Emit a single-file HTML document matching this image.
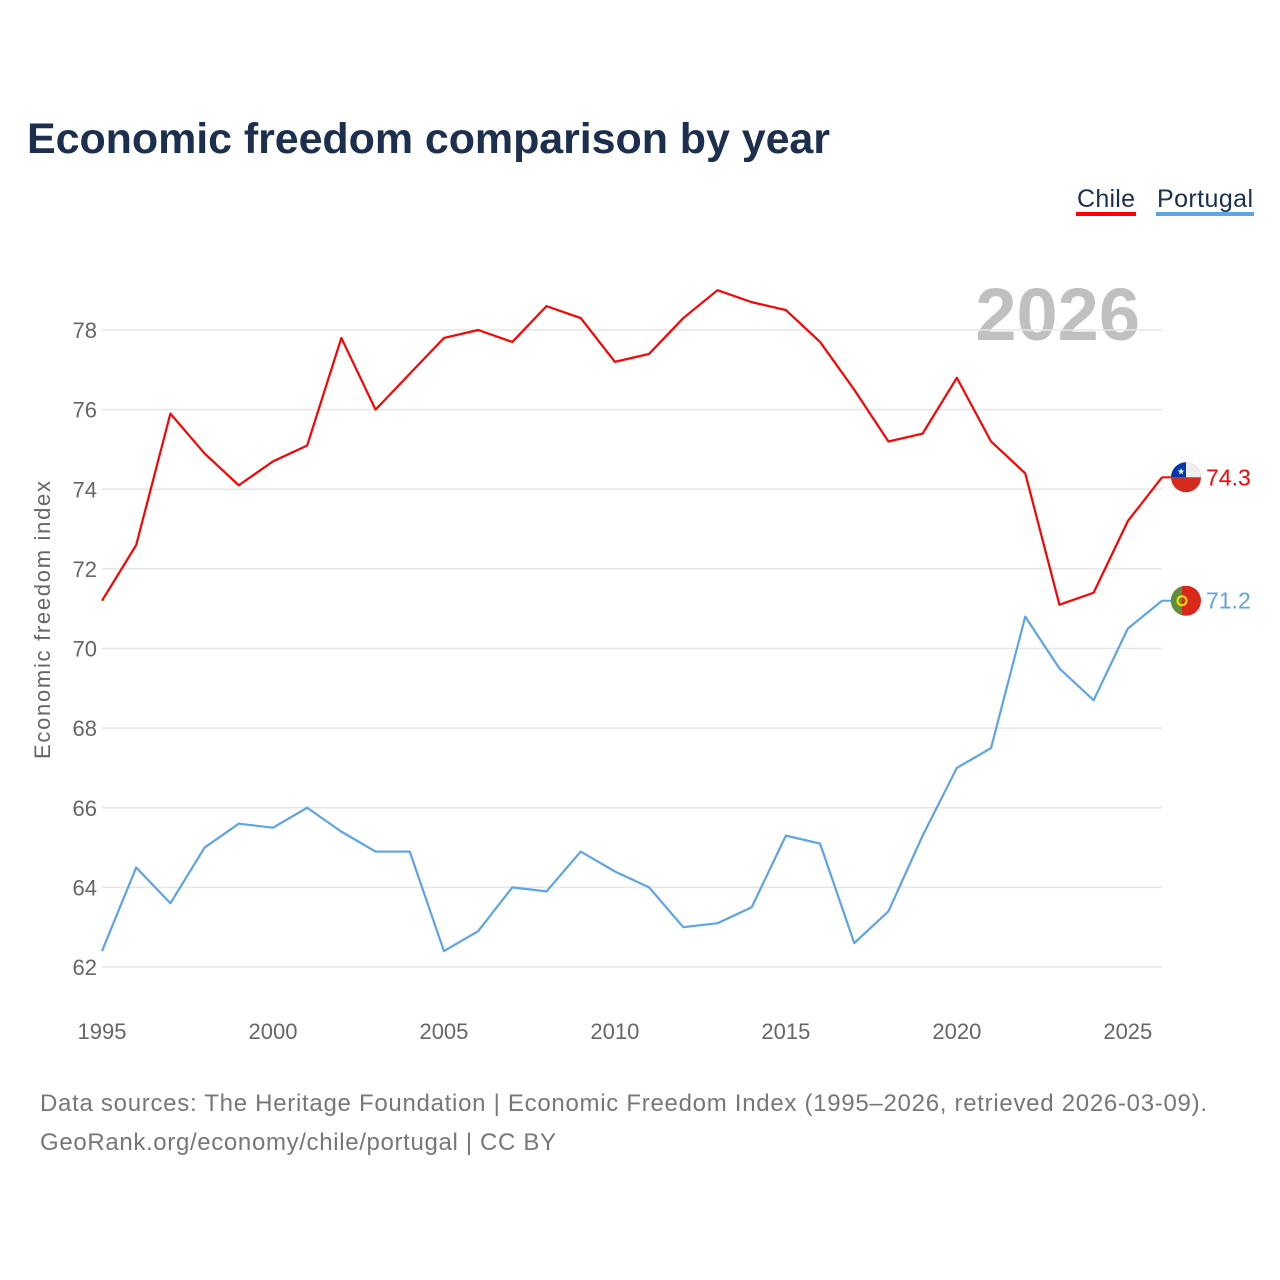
<!DOCTYPE html>
<html><head><meta charset="utf-8"><style>
body{margin:0;background:#fff;}
svg{display:block;font-family:"Liberation Sans",sans-serif;}
</style></head><body>
<svg id="c" width="1280" height="1280" viewBox="0 0 1280 1280">
<text x="27" y="153" font-size="43" font-weight="bold" fill="#1c2f4f" textLength="803">Economic freedom comparison by year</text>
<g><text x="1077" y="207" font-size="25" fill="#1c2f4f" textLength="58">Chile</text><rect x="1076" y="212" width="60" height="4" fill="#ff0000"/></g>
<g><text x="1157" y="207" font-size="25" fill="#1c2f4f" textLength="96">Portugal</text><rect x="1156" y="212" width="98" height="4" fill="#5ba4e8"/></g>
<text x="1140" y="340" font-size="74" font-weight="bold" fill="#c0c0c0" text-anchor="end">2026</text>
<text transform="translate(50,620) rotate(-90)" font-size="22" fill="#666" text-anchor="middle" textLength="278">Economic freedom index</text>
<g id="grid"></g><g id="lines"></g><g id="ends"></g>
<text x="40" y="1111" font-size="24" fill="#777" textLength="1167">Data sources: The Heritage Foundation | Economic Freedom Index (1995–2026, retrieved 2026-03-09).</text>
<text x="40" y="1150" font-size="24" fill="#777" textLength="516">GeoRank.org/economy/chile/portugal | CC BY</text>
</svg>
<script>
const years=[1995,1996,1997,1998,1999,2000,2001,2002,2003,2004,2005,2006,2007,2008,2009,2010,2011,2012,2013,2014,2015,2016,2017,2018,2019,2020,2021,2022,2023,2024,2025,2026];
const chile=[71.2,72.6,75.9,74.9,74.1,74.7,75.1,77.8,76.0,76.9,77.8,78.0,77.7,78.6,78.3,77.2,77.4,78.3,79.0,78.7,78.5,77.7,76.5,75.2,75.4,76.8,75.2,74.4,71.1,71.4,73.2,74.3];
const portugal=[62.4,64.5,63.6,65.0,65.6,65.5,66.0,65.4,64.9,64.9,62.4,62.9,64.0,63.9,64.9,64.4,64.0,63.0,63.1,63.5,65.3,65.1,62.6,63.4,65.3,67.0,67.5,70.8,69.5,68.7,70.5,71.2];
const yTicks=[62,64,66,68,70,72,74,76,78];
const xTicks=[1995,2000,2005,2010,2015,2020,2025];
const NS="http://www.w3.org/2000/svg";
const X=v=>102+(v-1995)*(1060/31);
const Y=v=>967-(v-62)*(637/16);
function mk(t,a,p){const e=document.createElementNS(NS,t);for(const k in a)e.setAttribute(k,a[k]);p.appendChild(e);return e;}
const grid=document.getElementById('grid');
yTicks.forEach(t=>{
 const l=mk('line',{x1:102,x2:1162,y1:Y(t),y2:Y(t),stroke:'#e6e6e6','stroke-width':1.5},grid);
 
 
 const tx=mk('text',{x:97,y:Y(t)+8,'font-size':22,fill:'#666','text-anchor':'end'},grid);
 tx.textContent=t;
 
 
});
xTicks.forEach(t=>{
 const tx=mk('text',{x:X(t),y:1039,'font-size':22,fill:'#666','text-anchor':'middle'},grid);
 tx.textContent=t;
 
 
});
const lines=document.getElementById('lines'),ends=document.getElementById('ends');
[[chile,'#ff0000','chile'],[portugal,'#5ba4e8','portugal']].forEach(([d,c,n])=>{
 const p=mk('polyline',{points:d.map((v,i)=>X(years[i])+','+Y(v)).join(' '),fill:'none',stroke:c,'stroke-width':2.2,'stroke-linejoin':'round'},lines);
 
 
 const last=d[d.length-1],y=Y(last);
 const g=mk('g',{},ends);
 
 
 mk('line',{x1:1162,x2:1172,y1:y,y2:y,stroke:c,'stroke-width':2},g);
 if(n==='chile'){
  mk('circle',{cx:1186,cy:y,r:15,fill:'#d52b1e'},g);
  mk('path',{d:`M1171 ${y} A15 15 0 0 1 1201 ${y} Z`,fill:'#eee'},g);
  mk('path',{d:`M1171 ${y} A15 15 0 0 1 1186 ${y-15} L1186 ${y} Z`,fill:'#0039a6'},g);
  const s=mk('text',{x:1181,y:y-3,'font-size':9,fill:'#fff','text-anchor':'middle'},g);s.textContent='★';
 } else {
  mk('circle',{cx:1186,cy:y,r:15,fill:'#da291c'},g);
  mk('path',{d:`M1182 ${y-14.5} A15 15 0 0 0 1182 ${y+14.5} Z`,fill:'#5f8f3a'},g);
  mk('circle',{cx:1182,cy:y,r:4.5,fill:'none',stroke:'#ffe000','stroke-width':2},g);
 }
 const t=mk('text',{x:1206,y:y+8,'font-size':23,fill:c},g);
 t.textContent=last.toFixed(1);
});
</script>
</body></html>
